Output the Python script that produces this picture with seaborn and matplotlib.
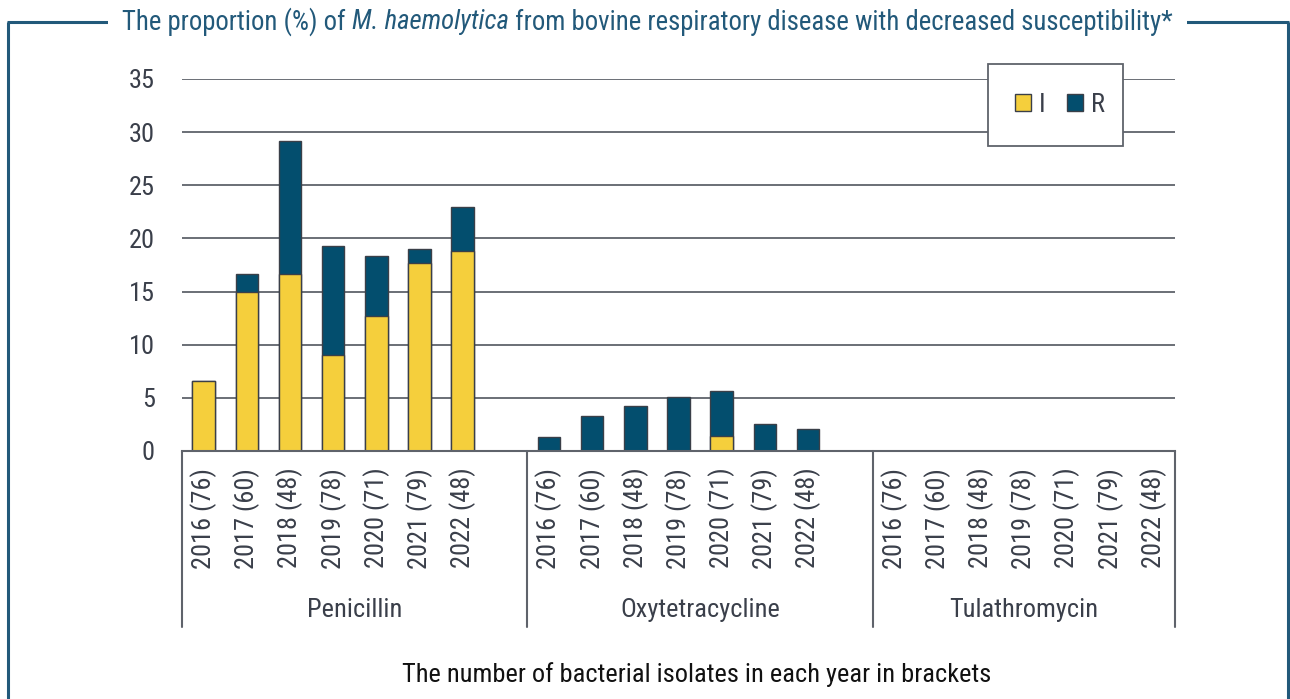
import numpy as np
import pandas as pd
import matplotlib
matplotlib.use("Agg")
import matplotlib.pyplot as plt
import seaborn as sns
from matplotlib import font_manager
from matplotlib.patches import Rectangle, Patch
from matplotlib.lines import Line2D

# ---------------- data ----------------
groups = ["Penicillin", "Oxytetracycline", "Tulathromycin"]
years = ["2016 (76)", "2017 (60)", "2018 (48)", "2019 (78)",
         "2020 (71)", "2021 (79)", "2022 (48)"]
pen_I = [6.6, 15.0, 16.7, 9.0, 12.7, 17.7, 18.8]
pen_R = [0.0, 1.7, 12.5, 10.3, 5.6, 1.3, 4.2]
oxy_I = [0.0, 0.0, 0.0, 0.0, 1.4, 0.0, 0.0]
oxy_R = [1.3, 3.3, 4.2, 5.1, 4.2, 2.5, 2.1]
tul_I = [0.0, 0.0, 0.0, 0.0, 0.0, 0.0, 0.0]
tul_R = [0.0, 0.0, 0.0, 0.0, 0.0, 0.0, 0.0]
y_ticks = [0, 5, 10, 15, 20, 25, 30, 35]
title_parts = ["The proportion (%) of ", "M. haemolytica",
               " from bovine respiratory disease with decreased susceptibility*"]
x_label = "The number of bacterial isolates in each year in brackets"

# ---------------- style ----------------
sns.set_style("white")
names = {f.name for f in font_manager.fontManager.ttflist}
font = "DejaVu Sans"
for cand in ["Roboto Condensed", "Liberation Sans Narrow", "Roboto"]:
    if cand in names:
        font = cand
        break
plt.rcParams["font.family"] = [font, "DejaVu Sans"]

FS = 19
YELLOW = "#F5CF3C"
BLUE = "#034E6E"
EDGE = "#3a3f48"
GRID = "#5f636b"
TEXT = "#3a3f4a"
FRAME = "#22597a"

rows = []
order = []
for gi, (g, I, R) in enumerate(zip(groups, [pen_I, oxy_I, tul_I], [pen_R, oxy_R, tul_R])):
    for y, i, r in zip(years, I, R):
        key = f"{g}|{y}"
        rows.append(dict(key=key, I=i, R=r, total=i + r))
        order.append(key)
    if gi < len(groups) - 1:
        order.append(f"gap{gi}")
df = pd.DataFrame(rows)

fig = plt.figure(figsize=(12.9, 6.99), dpi=100)
ax = fig.add_axes([182 / 1290, 1 - 451 / 699, 993 / 1290, 372 / 699])

sns.barplot(data=df, x="key", y="total", order=order, color=BLUE, saturation=1,
            edgecolor=EDGE, linewidth=1, width=0.52, ax=ax, zorder=3)
sns.barplot(data=df, x="key", y="I", order=order, color=YELLOW, saturation=1,
            edgecolor=EDGE, linewidth=1, width=0.52, ax=ax, zorder=4)

ax.set_ylim(0, 35)
ax.set_xlim(-0.5, len(order) - 0.5)
ax.set_yticks(y_ticks)
ax.yaxis.grid(True, color=GRID, lw=1.3, zorder=0)
ax.set_axisbelow(True)
for s in ["top", "right", "left"]:
    ax.spines[s].set_visible(False)
ax.spines["bottom"].set_color(GRID)
ax.spines["bottom"].set_linewidth(1.5)
ax.spines["bottom"].set_zorder(5)
ax.tick_params(axis="y", length=0, pad=19.5, labelsize=FS, labelcolor=TEXT)

pos = [order.index(k) for k in df["key"]]
ax.set_xticks(pos)
ax.set_xticklabels(years * len(groups), rotation=90, va="top", ha="center")
ax.tick_params(axis="x", length=0, pad=12, labelsize=FS, labelcolor=TEXT)
ax.set_xlabel("")
ax.set_ylabel("")

# group separators and labels
bounds = [-0.5, 7.5, 15.5, 22.5]
trans = ax.get_xaxis_transform()
for b in bounds:
    ax.add_line(Line2D([b, b], [0, -176 / 372], transform=trans, color=GRID,
                       lw=1.5, clip_on=False))
for gi, g in enumerate(groups):
    cx = (bounds[gi] + bounds[gi + 1]) / 2
    ax.text(cx, -159 / 372, g, transform=trans, ha="center", va="center",
            fontsize=FS, color=TEXT)

fig.text(697 / 1290, 1 - 675 / 699, x_label, ha="center", va="center",
         fontsize=FS, color="#111111")

# legend box
ax.add_patch(Rectangle(((988 - 182) / 993, (451 - 146) / 372), 135 / 993, 82 / 372,
                       transform=ax.transAxes, facecolor="white", edgecolor=GRID,
                       lw=1.3, clip_on=False, zorder=6))
handles = [Patch(facecolor=YELLOW, edgecolor=EDGE, lw=1, label="I"),
           Patch(facecolor=BLUE, edgecolor=EDGE, lw=1, label="R")]
leg = ax.legend(handles=handles, loc="center", bbox_to_anchor=(
    (1060 - 182) / 993, (451 - 105) / 372), ncol=2, frameon=False,
    fontsize=FS, handlelength=0.6, handleheight=0.6, handletextpad=0.3,
    columnspacing=0.8, labelcolor=TEXT)
leg.set_zorder(7)

# outer frame
def fline(x0, y0, x1, y1):
    fig.add_artist(Line2D([x0 / 1290, x1 / 1290], [1 - y0 / 699, 1 - y1 / 699],
                          transform=fig.transFigure, color=FRAME, lw=2.2,
                          solid_capstyle="butt"))

fline(8, 22, 8, 699)
fline(1288, 22, 1288, 699)
fline(7, 22, 1289, 22)

# title in pieces (normal / italic / normal) centred on the top line
fig.canvas.draw()
r = fig.canvas.get_renderer()
pieces = []
for txt, style in zip(title_parts, ["normal", "italic", "normal"]):
    t = fig.text(0, 1 - 22 / 699, txt, fontsize=19.3, color=FRAME, style=style,
                 va="center", ha="left")
    pieces.append(t)
widths = [t.get_window_extent(r).width for t in pieces]
total = sum(widths)
x0 = 647.5 - total / 2
fig.add_artist(Rectangle(((x0 - 14) / 1290, 1 - 36 / 699), (total + 28) / 1290, 28 / 699,
                         transform=fig.transFigure, facecolor="white", edgecolor="none",
                         zorder=2))
x = x0
for t, w in zip(pieces, widths):
    t.set_x(x / 1290)
    t.set_zorder(3)
    x += w

fig.savefig("out.png", dpi=100, facecolor="white")
